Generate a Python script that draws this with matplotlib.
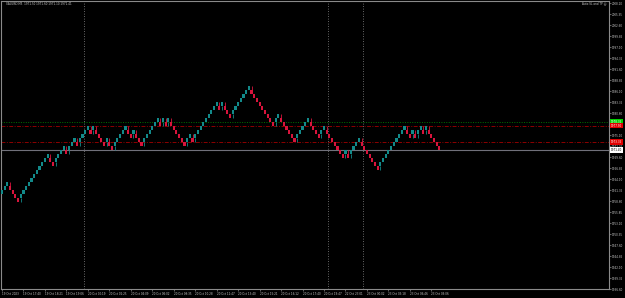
import matplotlib
matplotlib.use("Agg")
import matplotlib.pyplot as plt
import numpy as np

# ---------------- data ----------------
symbol_title = "XAUUSD,M5  1971.50 1971.60 1971.10 1971.41"
expert_label = "Auto SL and TP \u263a"
brick_size = 1.00
base_price = 1959.40
# bottom level (in bricks above base_price) of every renko brick, left to right
brick_level = [1, 2, 3,
               2, 1, 0, -1,
               0, 1, 2, 3, 4, 5, 6, 7, 8, 9, 10,
               9, 8,
               9, 10, 11, 12,
               11,
               12, 13, 14,
               13,
               14, 15, 16, 17,
               16,
               17,
               16, 15, 14, 13,
               14,
               13, 12,
               13, 14, 15, 16, 17,
               16, 15,
               16,
               15, 14, 13,
               14, 15, 16, 17, 18, 19,
               18,
               19,
               18,
               19,
               18, 17, 16, 15, 14, 13,
               14, 15,
               14,
               15, 16, 17, 18, 19, 20, 21, 22, 23,
               22,
               23,
               22, 21, 20,
               21, 22, 23, 24, 25, 26, 27,
               26, 25, 24, 23, 22, 21, 20, 19, 18,
               19, 20,
               19, 18, 17, 16, 15, 14,
               15, 16, 17, 18, 19,
               18, 17, 16, 15,
               16, 17,
               16, 15, 14, 13, 12, 11, 10,
               11,
               10,
               11, 12, 13, 14,
               13, 12, 11, 10, 9, 8, 7,
               8, 9, 10, 11, 12, 13, 14, 15, 16, 17,
               16, 15,
               16,
               15,
               16, 17,
               16,
               17,
               16, 15, 14, 13, 12]

price_ticks = [round(2008.10 - 2.75 * k, 2) for k in range(27)]
time_tick_bricks = list(range(0, 161, 8))
time_labels = ["19 Oct 2023", "19 Oct 17:40", "19 Oct 18:21", "19 Oct 19:06",
               "20 Oct 00:19", "20 Oct 02:25", "20 Oct 04:09", "20 Oct 06:02",
               "20 Oct 08:35", "20 Oct 10:28", "20 Oct 11:47", "20 Oct 13:40",
               "20 Oct 15:21", "20 Oct 16:12", "20 Oct 17:40", "20 Oct 19:47",
               "22 Oct 23:01", "23 Oct 00:02", "23 Oct 03:18", "23 Oct 06:46",
               "23 Oct 09:06"]
day_separators = [30.5, 121.5, 134.5]

bid_price = 1971.40
level_green = 1978.35
level_red_hi = 1977.50
level_red_lo = 1973.35

# ---------------- style ----------------
TEAL = "#128a8a"
RED = "#d8143c"
FG = "#c8c8c8"
GRID = "#8a8a8a"

W, H = 625, 298
fig = plt.figure(figsize=(W / 100, H / 100), dpi=100, facecolor="black")
ax = fig.add_axes([1 / W, (H - 289) / H, 608 / W, 288 / H])
ax.set_facecolor("black")

lev = np.array(brick_level)
lows = base_price + lev * brick_size
idx = np.arange(len(lows))
up = np.r_[True, np.diff(lev) > 0]
colors = np.where(up, TEAL, RED)

# wicks on reversal bricks
rev = np.r_[False, up[1:] != up[:-1]]
for i in idx[rev]:
    if up[i]:
        ax.vlines(i, lows[i] - brick_size, lows[i], colors=colors[i], lw=0.6, zorder=2)
    else:
        ax.vlines(i, lows[i] + brick_size, lows[i] + 2 * brick_size, colors=colors[i], lw=0.6, zorder=2)

ax.bar(idx, brick_size, bottom=lows, width=0.8, color=colors, linewidth=0, zorder=3)

# horizontal levels
ax.axhline(level_green, color="#007000", lw=0.7, ls=(0, (1, 1.5)), zorder=1)
ax.axhline(level_red_hi, color="#8c0000", lw=0.7, ls=(0, (4, 1.5, 1, 1.5)), zorder=1)
ax.axhline(level_red_lo, color="#8c0000", lw=0.7, ls=(0, (4, 1.5, 1, 1.5)), zorder=1)
ax.axhline(bid_price, color="#70707a", lw=0.8, zorder=1)

# day separators
for d in day_separators:
    ax.axvline(d, color=GRID, lw=0.6, ls=(0, (1, 2)), zorder=1)

ax.set_xlim(-0.373, 226.2)
ax.set_ylim(1936.65, 2008.65)

for s in ax.spines.values():
    s.set_color(GRID)
    s.set_linewidth(0.8)

ax.yaxis.tick_right()
ax.set_yticks(price_ticks)
ax.set_yticklabels([f"{p:.2f}" for p in price_ticks])
ax.tick_params(axis="y", colors=GRID, labelcolor=FG, labelsize=2.0, length=1.5, width=0.5, pad=0.8)
ax.set_xticks(time_tick_bricks)
ax.set_xticklabels(time_labels, ha="left")
ax.tick_params(axis="x", colors=GRID, labelcolor=FG, labelsize=2.0, length=1.5, width=0.5, pad=1.0)

# price boxes on the right scale
def price_box(p, face, txt):
    ax.text(1.003, p, f"{p:.2f}", transform=ax.get_yaxis_transform(), fontsize=2.0,
            color=txt, va="center", ha="left", clip_on=False, zorder=5,
            bbox=dict(boxstyle="square,pad=0.25", fc=face, ec="none"))

price_box(level_green, "#00d000", "#ffffff")
price_box(level_red_hi, "#e00000", "#ffffff")
price_box(level_red_lo, "#e00000", "#ffffff")
price_box(bid_price, "#ffffff", "#000000")

fig.text(6 / W, 1 - 4 / H, symbol_title, fontsize=2.0, color=FG, ha="left", va="center")
fig.text(606 / W, 1 - 3.5 / H, expert_label, fontsize=2.0, color=FG, ha="right", va="center")

fig.savefig("out.png", dpi=100, facecolor="black")
